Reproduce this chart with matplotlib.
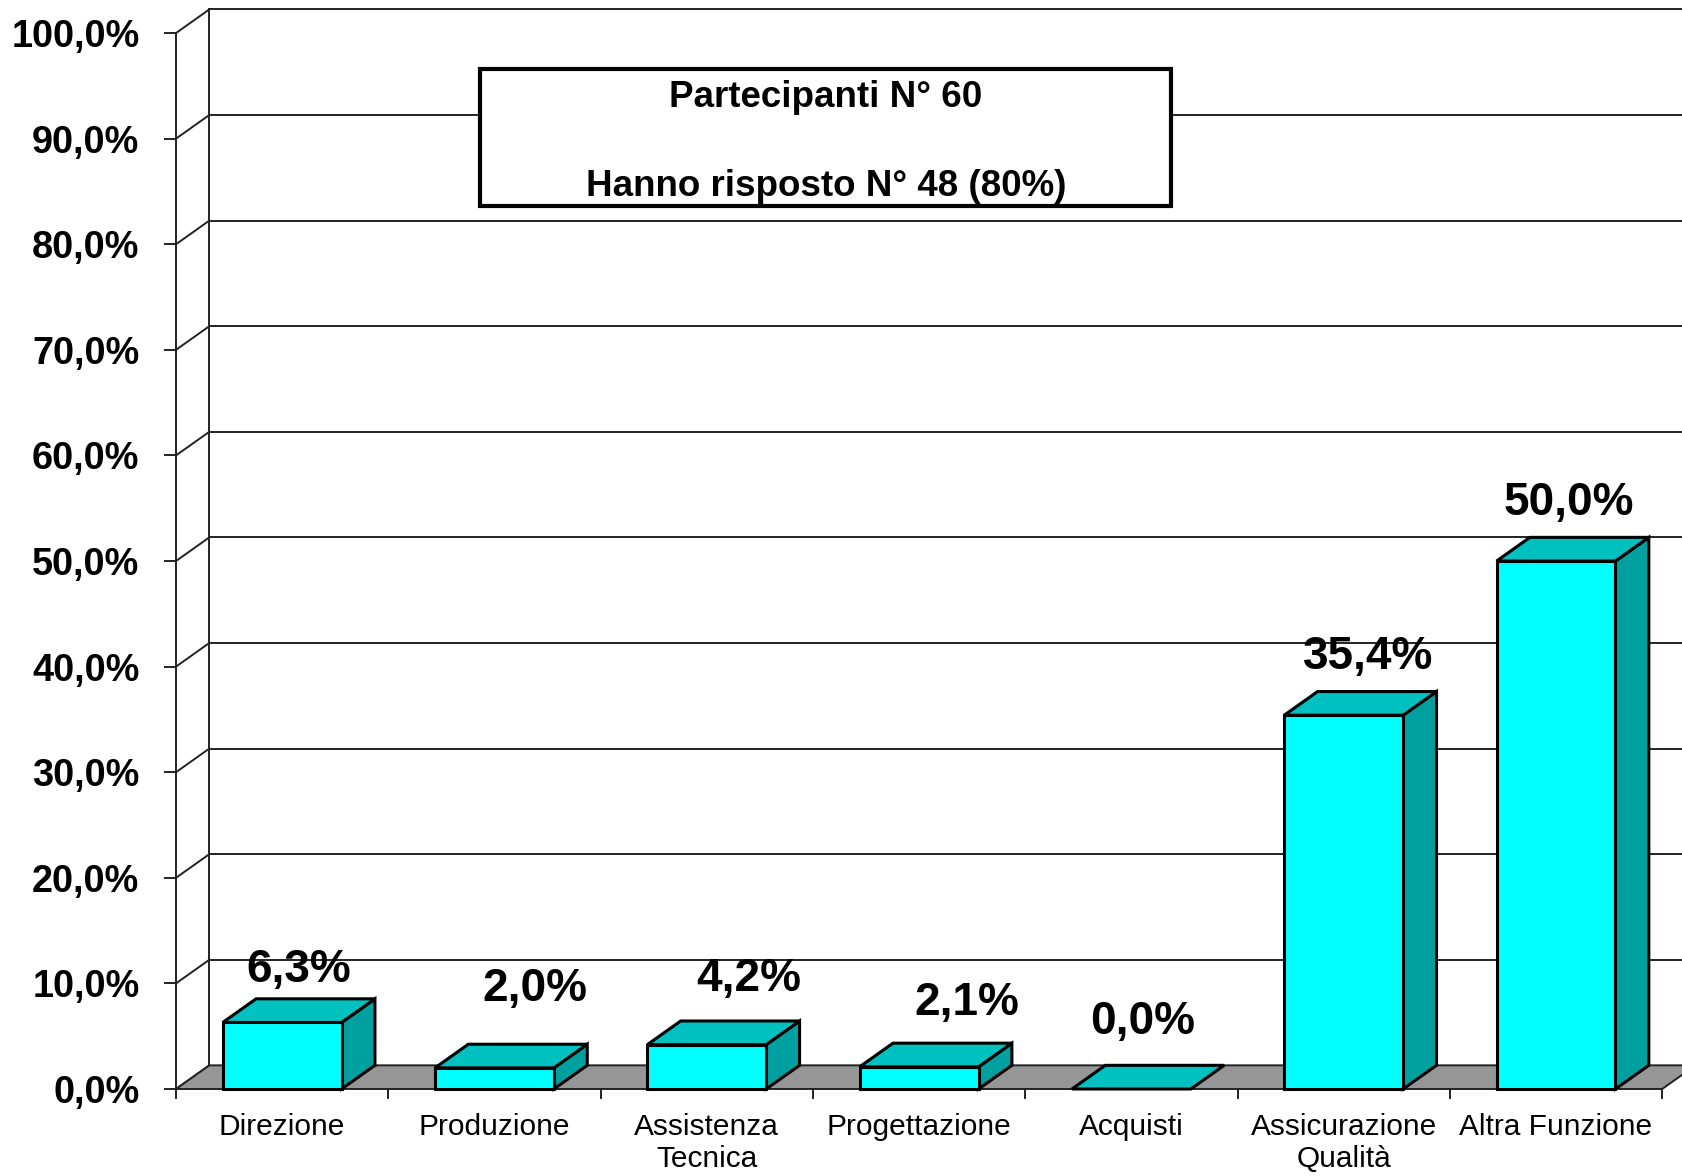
import matplotlib
matplotlib.use("Agg")
import matplotlib.pyplot as plt
from matplotlib.patches import Polygon, Rectangle

# Dati
categorie = ["Direzione", "Produzione", "Assistenza\nTecnica", "Progettazione",
             "Acquisti", "Assicurazione\nQualità", "Altra Funzione"]
valori = [6.3, 2.0, 4.2, 2.1, 0.0, 35.4, 50.0]
etichette = ["6,3%", "2,0%", "4,2%", "2,1%", "0,0%", "35,4%", "50,0%"]
tick_y = [0, 10, 20, 30, 40, 50, 60, 70, 80, 90, 100]
tick_y_lab = ["0,0%", "10,0%", "20,0%", "30,0%", "40,0%", "50,0%",
              "60,0%", "70,0%", "80,0%", "90,0%", "100,0%"]

# spostamenti delle etichette (come nel grafico Excel originale)
lab_dx = [0.0, 0.11, 0.117, 0.148, -0.024, 0.039, -0.02]
lab_dy = [2.7, 5.2, 4.0, 3.8, 4.1, 3.3, 3.3]

# profondita' 3D in unita' dati
DX = 0.157
DY = 2.24
BW = 0.56  # larghezza barra

plt.rcParams['font.family'] = ['Liberation Sans', 'DejaVu Sans']

fig = plt.figure(figsize=(16.83, 11.76), dpi=100)
ax = fig.add_axes([0, 0, 1, 1])
ax.set_xlim(-0.829, 7.098)
ax.set_ylim(-8.24, 103.13)
ax.axis('off')

n = len(categorie)
gc = '#222222'

# parete di fondo: griglia
for t in tick_y:
    if t > 0:
        ax.plot([DX, 7.5], [t + DY, t + DY], color=gc, lw=1.4, zorder=1)
    ax.plot([0, DX], [t, t + DY], color=gc, lw=1.4, zorder=1)
    ax.plot([-0.052, 0], [t, t], color=gc, lw=1.4, zorder=1)
ax.plot([DX, DX], [DY, 100 + DY], color=gc, lw=1.4, zorder=1)
ax.plot([0, 0], [0, 100], color=gc, lw=1.4, zorder=1)

# pavimento
ax.add_patch(Polygon([(0, 0), (n, 0), (n + DX, DY), (DX, DY)], closed=True,
                     facecolor='#969696', edgecolor=gc, lw=1.4, zorder=2))
for i in range(n + 1):
    ax.plot([i, i], [0, -0.85], color=gc, lw=1.4, zorder=2)

# etichette asse y
for t, s in zip(tick_y, tick_y_lab):
    ax.text(-0.172, t, s, ha='right', va='center_baseline', fontsize=27.3,
            fontweight='bold', zorder=5)

# barre 3D
for i, v in enumerate(valori):
    L = i + 0.5 - BW / 2
    R = i + 0.5 + BW / 2
    if v > 0:
        ax.add_patch(Polygon([(R, 0), (R + DX, DY), (R + DX, v + DY), (R, v)],
                             closed=True, facecolor='#00A0A0', edgecolor='black',
                             lw=2.2, zorder=3, joinstyle='miter'))
        ax.add_patch(Rectangle((L, 0), BW, v, facecolor='#00FFFF',
                               edgecolor='black', lw=2.2, zorder=3))
    ax.add_patch(Polygon([(L, v), (R, v), (R + DX, v + DY), (L + DX, v + DY)],
                         closed=True, facecolor='#00C0C0', edgecolor='black',
                         lw=2.2, zorder=3, joinstyle='miter'))
    ax.text(i + 0.5 + DX / 2 + lab_dx[i], v + DY + lab_dy[i], etichette[i],
            ha='center', va='center', fontsize=33, fontweight='bold', zorder=5)
    ax.text(i + 0.5, -2.3, categorie[i], ha='center', va='top', fontsize=21.5,
            linespacing=1.15, zorder=5)

# riquadro partecipanti
fig.patches.append(Rectangle((0.285, 0.8248), 0.411, 0.1165,
                             transform=fig.transFigure, facecolor='white',
                             edgecolor='black', lw=3, zorder=10))
fig.text(0.4908, 0.9175, "Partecipanti N° 60", ha='center', va='center',
         fontsize=26.5, fontweight='bold', zorder=11)
fig.text(0.4908, 0.841, "Hanno risposto N° 48 (80%)", ha='center', va='center',
         fontsize=26.5, fontweight='bold', zorder=11)

fig.savefig("out.png", dpi=100)
